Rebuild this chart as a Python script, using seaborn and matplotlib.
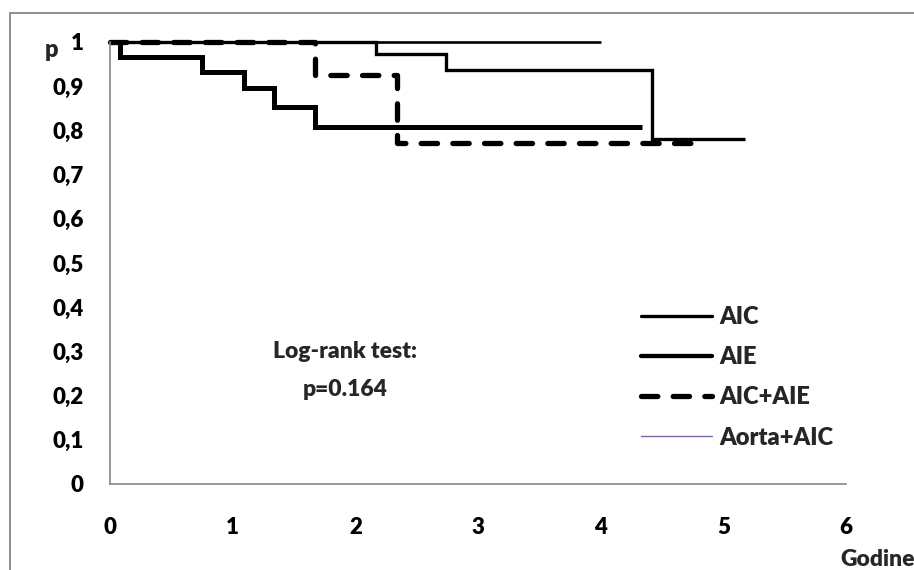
import matplotlib
matplotlib.use("Agg")
import matplotlib.pyplot as plt
from matplotlib.lines import Line2D
from matplotlib.patches import Rectangle
from matplotlib import font_manager as fm
import seaborn as sns
import pandas as pd

# ---- data ----
aic_t = [0, 2.17, 2.74, 4.42, 5.18]
aic_s = [1.0, 0.972, 0.937, 0.780, 0.780]

aie_t = [0, 0.08, 0.75, 1.09, 1.34, 1.67, 4.34]
aie_s = [1.0, 0.967, 0.933, 0.895, 0.853, 0.807, 0.807]

aicaie_t = [0, 1.67, 2.34, 4.77]
aicaie_s = [1.0, 0.925, 0.771, 0.771]

aorta_t = [0, 4.0]
aorta_s = [1.0, 1.0]

labels = ["AIC", "AIE", "AIC+AIE", "Aorta+AIC"]
x_ticks = [0, 1, 2, 3, 4, 5, 6]
y_ticks = [0, 0.1, 0.2, 0.3, 0.4, 0.5, 0.6, 0.7, 0.8, 0.9, 1.0]
y_ticklabels = ["0", "0,1", "0,2", "0,3", "0,4", "0,5", "0,6", "0,7", "0,8", "0,9", "1"]

sns.set_style("white")
plt.rcParams["font.family"] = ["Lato", "DejaVu Sans"]

FONT_WEIGHT = 800


def fp(size):
    return fm.FontProperties(family=["Lato", "DejaVu Sans"], weight=FONT_WEIGHT, size=size)


W, H = 914, 570
fig = plt.figure(figsize=(W / 100, H / 100), dpi=100)
ax = fig.add_axes([110 / W, 1 - 484 / H, (846 - 110) / W, (484 - 42) / H])

grey = "#868686"
styles = {
    "AIC": dict(color="black", lw=2.4, ls="-"),
    "AIE": dict(color="black", lw=3.6, ls="-"),
    "AIC+AIE": dict(color="black", lw=3.8, ls=(0, (3.1, 2.9))),
    "Aorta+AIC": dict(color="black", lw=1.9, ls="-"),
}

series = {
    "Aorta+AIC": (aorta_t, aorta_s),
    "AIC": (aic_t, aic_s),
    "AIE": (aie_t, aie_s),
    "AIC+AIE": (aicaie_t, aicaie_s),
}

for name, (t, s) in series.items():
    df = pd.DataFrame({"t": t, "s": s})
    st = styles[name]
    sns.lineplot(data=df, x="t", y="s", ax=ax, estimator=None, sort=False,
                 drawstyle="steps-post", color=st["color"], linewidth=st["lw"],
                 linestyle=st["ls"], clip_on=False, solid_capstyle="butt",
                 dash_capstyle="round", solid_joinstyle="miter")

ax.set_xlim(0, 6)
ax.set_ylim(0, 1)
ax.set_xticks(x_ticks)
ax.set_xticklabels([str(v) for v in x_ticks])
ax.set_yticks(y_ticks)
ax.set_yticklabels(y_ticklabels)
ax.set_xlabel("")
ax.set_ylabel("")

for sp in ["top", "right"]:
    ax.spines[sp].set_visible(False)
for sp in ["left", "bottom"]:
    ax.spines[sp].set_color(grey)
    ax.spines[sp].set_linewidth(1.2)

ax.tick_params(axis="both", direction="out", length=6, width=1.2, color=grey,
               labelcolor="black")
ax.tick_params(axis="x", pad=18)
ax.tick_params(axis="y", pad=13)
for lab in ax.get_xticklabels() + ax.get_yticklabels():
    lab.set_fontproperties(fp(16))

# legend with handles as in the reference
handles = [
    Line2D([], [], color="black", lw=2.4),
    Line2D([], [], color="black", lw=3.1),
    Line2D([], [], color="black", lw=3.8, ls=(0, (3.1, 2.9)), dash_capstyle="round"),
    Line2D([], [], color="#8064A2", lw=1.0),
]
leg = ax.legend(handles, labels, loc="upper left",
                bbox_to_anchor=(641 / W, 1 - 306 / H), bbox_transform=fig.transFigure,
                frameon=False, borderpad=0, borderaxespad=0, handlelength=3.0,
                handletextpad=0.3, labelspacing=0.77, prop=fp(17))

ax.text(345 / W, 1 - 351 / H, "Log-rank test:", transform=fig.transFigure,
        ha="center", va="center", fontproperties=fp(16.5))
ax.text(345 / W, 1 - 390 / H, "p=0.164", transform=fig.transFigure,
        ha="center", va="center", fontproperties=fp(16.5))

fig.text(52 / W, 1 - 50 / H, "p", ha="center", va="center", fontproperties=fp(17))
fig.text(840 / W, 1 - 560 / H, "Godine", ha="left", va="center", fontproperties=fp(16.5))

fig.patches.append(Rectangle((10 / W, -0.5), 2, 0.5 + (1 - 13 / H), transform=fig.transFigure,
                             fill=False, edgecolor=grey, linewidth=1.3))

fig.savefig("out.png", dpi=100)
